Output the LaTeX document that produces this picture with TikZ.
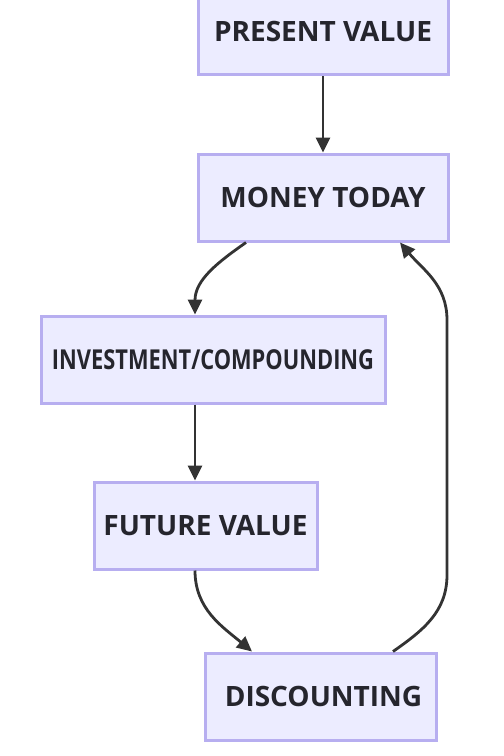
\documentclass[tikz,border=0pt]{standalone}
\usepackage{fontspec}
\setmainfont{Open Sans}
\usetikzlibrary{arrows.meta,calc}
\definecolor{boxfill}{HTML}{ECECFF}
\definecolor{boxdraw}{HTML}{B7AEF0}
\definecolor{linec}{HTML}{333333}
\definecolor{txt}{HTML}{25252D}
\begin{document}
\begin{tikzpicture}[x=1pt,y=-1pt,
  box/.style={draw=boxdraw,fill=boxfill,line width=3pt,rectangle,inner sep=0pt,
    minimum height=87pt,text=txt,font=\fontsize{28}{32}\selectfont\bfseries},
  conn/.style={draw=linec,line width=2.8pt,-{Triangle[length=15pt,width=14pt]}}]
\useasboundingbox[fill=white] (0,0) rectangle (504,756);
\node[box,minimum width=250pt] (pv) at (323,31) {PRESENT VALUE};
\node[box,minimum width=250pt] (mt) at (323,197.5) {MONEY TODAY};
\node[box,minimum width=344pt] (inv) at (213,359.5) {\scalebox{0.78}[0.98]{INVESTMENT/COMPOUNDING}};
\node[box,minimum width=223pt] (fv) at (205.5,525.5) {FUTURE VALUE};
\node[box,minimum width=231pt] (disc) at (320.5,696.5) {\hspace{6pt}DISCOUNTING};
\draw[conn] (pv.south) -- (mt.north);
\draw[conn] ($(mt.south)+(-77,0)$) to[out=-145,in=90] ($(inv.north)+(-18,0)$);
\draw[conn] ($(inv.south)+(-18,0)$) -- ($(fv.north)+(-10.5,0)$);
\draw[conn] ($(fv.south)+(-10.5,0)$) to[out=-90,in=140] ($(disc.north)+(-68.5,0)$);
\coordinate (r1) at (447,575);
\coordinate (r2) at (447,320);
\draw[conn] ($(disc.north)+(72.5,0)$) to[out=35,in=-90] (r1) -- (r2) to[out=90,in=-50] ($(mt.south)+(77,0)$);
\end{tikzpicture}
\end{document}
